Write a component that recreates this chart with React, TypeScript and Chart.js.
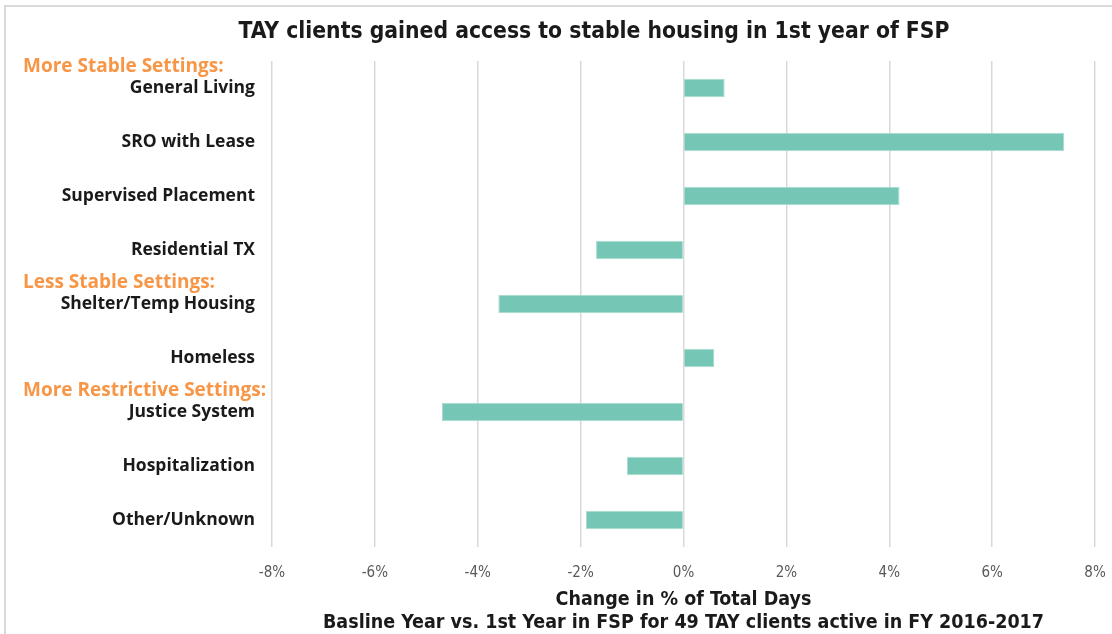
import React, { useEffect, useRef } from "react";
import { Chart, registerables } from "chart.js";

Chart.register(...registerables);

const categories = [
  "General Living",
  "SRO with Lease",
  "Supervised Placement",
  "Residential TX",
  "Shelter/Temp Housing",
  "Homeless",
  "Justice System",
  "Hospitalization",
  "Other/Unknown",
];
const changeValues = [0.8, 7.4, 4.2, -1.7, -3.6, 0.6, -4.7, -1.1, -1.9];
const groupHeaderLabels = ["More Stable Settings:", "Less Stable Settings:", "More Restrictive Settings:"];
const groupHeaderIndex = [0, 4, 6];
const xTickValues = [-8, -6, -4, -2, 0, 2, 4, 6, 8];
const chartTitle = "TAY clients gained access to stable housing in 1st year of FSP";
const axisTitleLines = [
  "Change in % of Total Days",
  "Basline Year vs. 1st Year in FSP for 49 TAY clients active in FY 2016-2017",
];

const NARROW = '"Liberation Sans Narrow", "DejaVu Sans Condensed", Roboto, sans-serif';
const WIDE = '"Open Sans", "Noto Sans", sans-serif';

const decorPlugin = {
  id: "decor",
  beforeDraw(chart: any) {
    const ctx = chart.ctx;
    ctx.save();
    ctx.fillStyle = "#ffffff";
    ctx.fillRect(0, 0, chart.width, chart.height);
    ctx.strokeStyle = "#d9d9d9";
    ctx.lineWidth = 2;
    ctx.beginPath();
    ctx.moveTo(5, chart.height + 2);
    ctx.lineTo(5, 6);
    ctx.lineTo(chart.width + 2, 6);
    ctx.stroke();
    ctx.restore();
  },
  afterDraw(chart: any) {
    const ctx = chart.ctx;
    const yScale = chart.scales.y;
    ctx.save();
    ctx.fillStyle = "#1a1a1a";
    ctx.font = `bold 22.7px ${NARROW}`;
    ctx.textAlign = "center";
    ctx.textBaseline = "middle";
    ctx.fillText(chartTitle, 594, 32);

    ctx.fillStyle = "#F79646";
    ctx.font = `bold 19px ${WIDE}`;
    ctx.textAlign = "left";
    groupHeaderLabels.forEach((label, i) => {
      const y = yScale.getPixelForValue(groupHeaderIndex[i]) - 21;
      ctx.fillText(label, 23, y);
    });
    ctx.restore();
  },
};

export default function App() {
  const canvasRef = useRef<HTMLCanvasElement | null>(null);

  useEffect(() => {
    const canvas = canvasRef.current;
    if (!canvas) return;
    const chart = new Chart(canvas, {
      type: "bar",
      data: {
        labels: categories,
        datasets: [
          {
            data: changeValues,
            backgroundColor: "#76C6B6",
            borderColor: "#A9DCD1",
            borderWidth: 1,
            categoryPercentage: 1,
            barPercentage: 0.34,
          },
        ],
      },
      options: {
        indexAxis: "y",
        animation: false,
        responsive: false,
        layout: { padding: { top: 61, right: 0, left: 0, bottom: 0 } },
        plugins: {
          legend: { display: false },
          tooltip: { enabled: false },
          title: { display: false },
        },
        scales: {
          x: {
            type: "linear",
            min: -8,
            max: 8,
            afterBuildTicks(scale: any) {
              scale.ticks = xTickValues.map((v) => ({ value: v }));
            },
            afterFit(scale: any) {
              scale.height = 634 - 547;
              scale.paddingRight = 17;
              scale.paddingLeft = 0;
            },
            grid: { color: "#d9d9d9", lineWidth: 1.5, drawTicks: false },
            border: { display: false },
            ticks: {
              padding: 17,
              color: "#595959",
              font: { family: NARROW, size: 15 },
              callback: (v: any) => `${v}%`,
            },
            title: {
              display: true,
              text: axisTitleLines,
              color: "#1a1a1a",
              font: { family: NARROW, size: 19.5, weight: "bold", lineHeight: 1.18 },
              padding: { top: 0, bottom: 0 },
            },
          },
          y: {
            type: "category",
            afterFit(scale: any) {
              scale.width = 272;
            },
            grid: { display: false, drawTicks: false },
            border: { display: false },
            ticks: {
              padding: 17,
              color: "#1a1a1a",
              font: { family: WIDE, size: 17.5, weight: "bold" },
            },
          },
        },
      },
      plugins: [decorPlugin],
    });
    return () => chart.destroy();
  }, []);

  return (
    <div style={{ position: "absolute", left: 0, top: 0, width: 1112, height: 634, background: "#fff" }}>
      <canvas ref={canvasRef} width={1112} height={634} style={{ display: "block" }} />
    </div>
  );
}
